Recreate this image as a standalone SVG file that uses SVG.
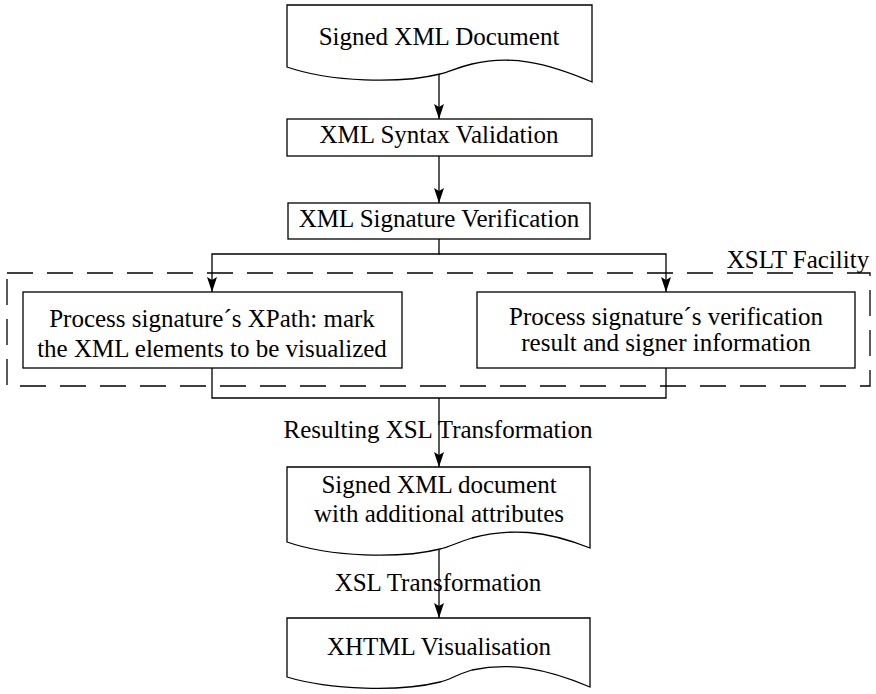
<svg xmlns="http://www.w3.org/2000/svg" width="876" height="694" viewBox="0 0 876 694">
<style>
.n{fill:#fff;stroke:#000;stroke-width:1.3}
.t{font-family:"Liberation Serif","Times New Roman",serif;font-size:25px;fill:#000;text-anchor:middle}
.c{fill:none;stroke:#000;stroke-width:1.3}
.d{fill:none;stroke:#000;stroke-width:1.3;stroke-dasharray:26,14}
</style>
<defs>
<marker id="a" markerWidth="16" markerHeight="12" refX="15" refY="6" orient="auto" markerUnits="userSpaceOnUse">
<path d="M0,1 L15,6 L0,11 L3,6 Z" fill="#000"/>
</marker>
</defs>
<g id="xslt-facility">
<rect class="d" x="7" y="273" width="863" height="113"/>
<text class="t" x="798" y="268">XSLT Facility</text>
</g>
<g id="connectors">
<line class="c" x1="439" y1="73" x2="439" y2="119" marker-end="url(#a)"/>
<line class="c" x1="439" y1="156" x2="439" y2="203" marker-end="url(#a)"/>
<polyline class="c" points="439,239 439,254 212,254 212,292" marker-end="url(#a)"/>
<polyline class="c" points="439,254 666,254 666,292" marker-end="url(#a)"/>
<polyline class="c" points="212,368 212,398 666,398 666,368"/>
<line class="c" x1="439" y1="398" x2="439" y2="467" marker-end="url(#a)"/>
<line class="c" x1="439" y1="550" x2="439" y2="618" marker-end="url(#a)"/>
<text class="t" x="438" y="438">Resulting XSL Transformation</text>
<text class="t" x="438" y="591">XSL Transformation</text>
</g>
<g id="signed-xml-document">
<path class="n" d="M287,5 L592,5 L592,82 C545,62 510,55 472,64 C455,68 450,72 440,74 C400,84 330,82 287,67 Z"/>
<text class="t" x="439" y="45">Signed XML Document</text>
</g>
<g id="xml-syntax-validation">
<rect class="n" x="287" y="119" width="305" height="37"/>
<text class="t" x="439" y="143">XML Syntax Validation</text>
</g>
<g id="xml-signature-verification">
<rect class="n" x="288" y="203" width="302" height="36"/>
<text class="t" x="439" y="227">XML Signature Verification</text>
</g>
<g id="process-xpath">
<rect class="n" x="23" y="292" width="379" height="76"/>
<text class="t" x="212" y="327">Process signature´s XPath: mark</text>
<text class="t" x="212" y="357">the XML elements to be visualized</text>
</g>
<g id="process-verification">
<rect class="n" x="477" y="292" width="378" height="76"/>
<text class="t" x="666" y="325">Process signature´s verification</text>
<text class="t" x="666" y="351">result and signer information</text>
</g>
<g id="signed-xml-with-attributes">
<path class="n" d="M287,467 L590,467 L590,548 C545,530 510,528 472,538 C455,543 450,547 440,549 C400,559 330,557 287,542 Z"/>
<text class="t" x="439" y="493">Signed XML document</text>
<text class="t" x="439" y="522">with additional attributes</text>
</g>
<g id="xhtml-visualisation">
<path class="n" d="M287,618 L590,618 L590,687 C545,668 510,662 472,670 C455,675 450,680 440,682 C400,692 330,690 287,677 Z"/>
<text class="t" x="439" y="655">XHTML Visualisation</text>
</g>
</svg>
